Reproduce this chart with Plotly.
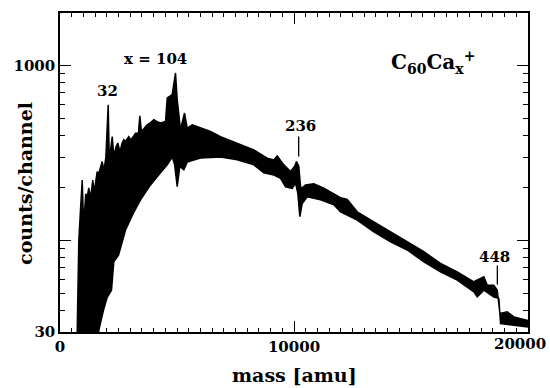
import numpy as np
import plotly.graph_objects as go

# Upper envelope of the (densely oscillating) spectrum band
upper_mass = [735, 780, 804, 876, 949, 990, 1047, 1100, 1163, 1230, 1304, 1402, 1450, 1517,
              1560, 1590, 1650, 1731, 1804, 1850, 1902, 1960, 2060, 2100, 2128, 2231, 2290,
              2329, 2400, 2470, 2530, 2586, 2650, 2727, 2800, 2940, 3013, 3086, 3160, 3227,
              3350, 3411, 3480, 3600, 3727, 3850, 4009, 4150, 4295, 4509,
              4582, 4795, 4936, 5009, 5150, 5321, 5437, 5650, 6005, 6432, 6860, 7574,
              8283, 8856, 9138, 9283, 9565, 9852, 10023, 10108, 10206, 10279, 10352,
              10493, 10847, 11275, 11702, 11988, 12275, 12702, 13412, 14126, 14839,
              15549, 16262, 16976, 17686, 18113, 18259, 18540, 18686, 18800, 19113,
              19396, 19968]
upper_counts = [30, 70, 100, 150, 222, 150, 144, 185, 177, 200, 174, 222, 190, 213,
                230, 248, 240, 265, 283, 262, 265, 300, 598, 320, 302, 393, 316,
                316, 345, 361, 335, 330, 360, 377, 370, 393, 377, 385, 400, 411,
                411, 517, 420, 440, 459, 470, 491, 478, 470, 480,
                653, 682, 908, 639, 430, 536, 440, 459, 440, 420, 393, 361,
                330, 296, 289, 305, 271, 248, 265, 283, 265, 203, 200,
                208, 211, 199, 186, 176, 172, 146, 128, 112, 98.4,
                86.3, 74.0, 66.2, 58.1, 62.1, 55.6, 55.6, 52.0, 38.3, 39.1,
                36.6, 35.0]

# Lower envelope of the band
lower_mass = [735, 1600, 1658, 1859, 2017, 2201, 2299, 2500, 2800, 3141, 3441, 3868,
              4295, 4582, 4795, 4900, 5009, 5120, 5291, 5437, 6005, 6860, 7574, 8283,
              8710, 9138, 9424, 9638, 9924, 10065, 10164, 10249, 10352, 10565, 11134,
              11702, 11988, 12702, 13412, 14126, 14839, 15549, 16262, 16976, 17686,
              17831, 18113, 18540, 18754, 18827, 19396, 19968]
lower_counts = [20, 20, 30.7, 40, 47.4, 52, 75.5, 82.6, 115, 144, 171, 208,
                244, 271, 300, 271, 203, 265, 254, 281, 296, 300, 290, 271,
                244, 237, 227, 203, 199, 213, 186, 137, 163, 178, 171,
                160, 146, 131, 112, 98.4, 88.3, 75.6, 66.2, 59.4, 50.9,
                47.6, 52, 47.6, 46.7, 33.5, 32.8, 32.1]

x_tickvals = [0, 10000, 20000]
x_ticktext = ["0", "10000", ""]
x_minor = [v for v in range(500, 20000, 500) if v != 10000]
y_tickvals = [30, 100, 1000]
y_ticktext = ["30", "", "1000"]
y_minor = [40, 50, 60, 70, 80, 90, 200, 300, 400, 500, 600, 700, 800, 900]

FONT = "DejaVu Serif"
X_RANGE = [0, 20000]
Y_RANGE = [np.log10(30), np.log10(2000)]

fig = go.Figure()
fig.add_trace(go.Scatter(
    x=upper_mass + lower_mass[::-1],
    y=upper_counts + lower_counts[::-1],
    mode="lines", fill="toself", fillcolor="black",
    line=dict(color="black", width=1.5), hoverinfo="skip", showlegend=False))

# marker lines for 236 and 448
fig.add_trace(go.Scatter(x=[10200, 10200], y=[302, 393], mode="lines",
                         line=dict(color="black", width=1.3), showlegend=False))
fig.add_trace(go.Scatter(x=[18690, 18690], y=[56, 72], mode="lines",
                         line=dict(color="black", width=1.3), showlegend=False))

lbl = dict(family=FONT, size=15, color="black", weight="bold")
anns = [
    dict(x=2040, y=np.log10(713), text="32"),
    dict(x=4080, y=np.log10(1090), text="x = 104"),
    dict(x=10280, y=np.log10(450), text="236"),
    dict(x=18570, y=np.log10(81), text="448"),
]
annotations = [dict(a, xref="x", yref="y", showarrow=False, font=lbl,
                    xanchor="center", yanchor="middle") for a in anns]
big = dict(family=FONT, size=19, color="black", weight="bold")
annotations.append(dict(x=0.797, y=0.846, xref="paper", yref="paper", showarrow=False,
                        xanchor="center", yanchor="middle",
                        text="C<sub>60</sub>Ca<sub>x</sub><sup>+</sup>",
                        font=dict(family=FONT, size=20, color="black", weight="bold")))
annotations.append(dict(x=-0.075, y=0.467, xref="paper", yref="paper", showarrow=False,
                        xanchor="center", yanchor="middle",
                        text="counts/channel", textangle=-90, font=big))
annotations.append(dict(x=0.502, y=-0.135, xref="paper", yref="paper", showarrow=False,
                        xanchor="center", yanchor="middle",
                        text="mass [amu]", font=big))
annotations.append(dict(x=20000, y=0, xref="x", yref="paper", showarrow=False,
                        xanchor="center", yanchor="top", xshift=-8, yshift=-1,
                        text="20000", font=lbl))

tf = dict(family=FONT, size=15, color="black", weight="bold")
fig.update_layout(
    template="none",
    width=550, height=388, margin=dict(l=60, r=22, t=13, b=56, autoexpand=False),
    paper_bgcolor="white", plot_bgcolor="white",
    annotations=annotations, showlegend=False,
    font=dict(family=FONT, size=15, color="black", weight="bold"),
    xaxis=dict(range=X_RANGE, tickmode="array", tickvals=x_tickvals, ticktext=x_ticktext,
               ticks="inside", ticklen=11, tickwidth=1.3, tickcolor="black",
               minor=dict(tickmode="array", tickvals=x_minor, ticks="inside", ticklen=4,
                          tickwidth=1.3, tickcolor="black", showgrid=False),
               showline=True, linewidth=1.5, linecolor="black", mirror="allticks",
               showgrid=False, zeroline=False, automargin=False, layer="above traces",
               tickfont=tf),
    yaxis=dict(type="log", range=Y_RANGE, tickmode="array",
               tickvals=y_tickvals, ticktext=y_ticktext,
               ticks="inside", ticklen=11, tickwidth=1.3, tickcolor="black",
               minor=dict(tickmode="array", tickvals=y_minor, ticks="inside", ticklen=5,
                          tickwidth=1.3, tickcolor="black", showgrid=False),
               showline=True, linewidth=1.5, linecolor="black", mirror="allticks",
               showgrid=False, zeroline=False, automargin=False, layer="above traces",
               tickfont=tf),
)

fig.write_html("out.html")
